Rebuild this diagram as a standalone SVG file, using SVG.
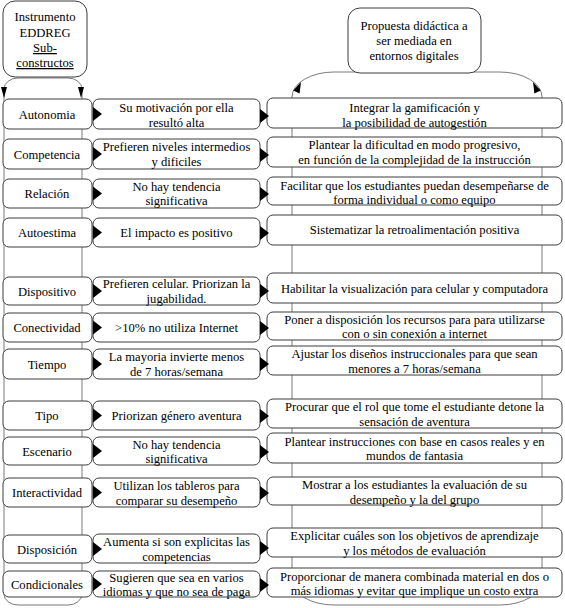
<svg xmlns="http://www.w3.org/2000/svg" width="565" height="608" viewBox="0 0 565 608">
<style>
.bx{fill:#fff;stroke:#3c3c3c;stroke-width:1}
.loop{fill:none;stroke:#7a7a7a;stroke-width:1}
.ah{fill:#000;stroke:none}
text{font-family:"Liberation Serif","Times New Roman",serif;font-size:12.6px;fill:#000;text-anchor:middle}
.u{text-decoration:underline}
</style>
<rect width="565" height="608" fill="#fff"/>
<g id="connectors">
<rect class="loop" x="4" y="78" width="78" height="527" rx="14" ry="11"/>
<rect class="loop" x="292" y="72" width="250" height="533" rx="42" ry="25"/>
<polygon class="ah" points="1,87 7,87 4,98"/>
<polygon class="ah" points="78,87 84,87 81,98"/>
<polygon class="ah" points="301,82 293.3,90.4 299.6,93.6"/>
<polygon class="ah" points="533,82 540.7,90.4 534.4,93.6"/>
</g>
<g id="instrumento">
<rect class="bx" x="3" y="1" width="84" height="76" rx="12"/>
<text x="45" y="21">Instrumento</text>
<text x="45" y="37">EDDREG</text>
<text x="45" y="52" class="u">Sub-</text>
<text x="45" y="67" class="u">constructos</text>
</g>
<g id="propuesta">
<rect class="bx" x="348" y="8" width="133" height="65" rx="12"/>
<text x="414" y="30">Propuesta didáctica a</text>
<text x="414" y="45">ser mediada en</text>
<text x="414" y="60">entornos digitales</text>
</g>
<g id="row1">
<rect class="bx" x="3" y="99" width="89" height="30" rx="6"/>
<text x="47" y="118.5">Autonomia</text>
<rect class="bx" x="93" y="99" width="167" height="30" rx="6"/>
<text x="176.5" y="112">Su motivación por ella</text>
<text x="176.5" y="126.5">resultó alta</text>
<rect class="bx" x="267" y="98" width="295" height="30" rx="6"/>
<text x="414.5" y="112">Integrar la gamificación y</text>
<text x="414.5" y="126.5">la posibilidad de autogestión</text>
</g>
<g id="row2">
<rect class="bx" x="3" y="139" width="89" height="30" rx="6"/>
<text x="47" y="158.5">Competencia</text>
<rect class="bx" x="93" y="139" width="167" height="30" rx="6"/>
<text x="176.5" y="151">Prefieren niveles intermedios</text>
<text x="176.5" y="165.5">y dificiles</text>
<rect class="bx" x="267" y="137" width="295" height="30" rx="6"/>
<text x="414.5" y="149">Plantear la dificultad en modo progresivo,</text>
<text x="414.5" y="163.5">en función de la complejidad de la instrucción</text>
</g>
<g id="row3">
<rect class="bx" x="3" y="179" width="89" height="29" rx="6"/>
<text x="47" y="198">Relación</text>
<rect class="bx" x="93" y="179" width="167" height="29" rx="6"/>
<text x="176.5" y="190.5">No hay tendencia</text>
<text x="176.5" y="205">significativa</text>
<rect class="bx" x="267" y="177" width="295" height="28" rx="6"/>
<text x="414.5" y="189.5">Facilitar que los estudiantes puedan desempeñarse de</text>
<text x="414.5" y="204">forma individual o como equipo</text>
</g>
<g id="row4">
<rect class="bx" x="3" y="218" width="89" height="29" rx="6"/>
<text x="47" y="237">Autoestima</text>
<rect class="bx" x="93" y="218" width="167" height="29" rx="6"/>
<text x="176.5" y="237">El impacto es positivo</text>
<rect class="bx" x="267" y="215" width="295" height="30" rx="6"/>
<text x="414.5" y="234">Sistematizar la retroalimentación positiva</text>
</g>
<g id="row5">
<rect class="bx" x="3" y="277" width="89" height="28" rx="6"/>
<text x="47" y="295.5">Dispositivo</text>
<rect class="bx" x="93" y="277" width="167" height="28" rx="6"/>
<text x="176.5" y="288">Prefieren celular. Priorizan la</text>
<text x="176.5" y="302.5">jugabilidad.</text>
<rect class="bx" x="267" y="273" width="295" height="30" rx="6"/>
<text x="414.5" y="292.5">Habilitar la visualización para celular y computadora</text>
</g>
<g id="row6">
<rect class="bx" x="3" y="313" width="89" height="29" rx="6"/>
<text x="47" y="332">Conectividad</text>
<rect class="bx" x="93" y="313" width="167" height="29" rx="6"/>
<text x="176.5" y="332">&gt;10% no utiliza Internet</text>
<rect class="bx" x="267" y="312" width="295" height="28" rx="6"/>
<text x="414.5" y="323.5">Poner a disposición los recursos para para utilizarse</text>
<text x="414.5" y="338">con o sin conexión a internet</text>
</g>
<g id="row7">
<rect class="bx" x="3" y="349" width="89" height="30" rx="6"/>
<text x="47" y="368.5">Tiempo</text>
<rect class="bx" x="93" y="349" width="167" height="30" rx="6"/>
<text x="176.5" y="361">La mayoria invierte menos</text>
<text x="176.5" y="375.5">de 7 horas/semana</text>
<rect class="bx" x="267" y="346" width="295" height="29" rx="6"/>
<text x="414.5" y="358">Ajustar los diseños instruccionales para que sean</text>
<text x="414.5" y="372.5">menores a 7 horas/semana</text>
</g>
<g id="row8">
<rect class="bx" x="3" y="401" width="89" height="29" rx="6"/>
<text x="47" y="420">Tipo</text>
<rect class="bx" x="93" y="401" width="167" height="29" rx="6"/>
<text x="176.5" y="420">Priorizan género aventura</text>
<rect class="bx" x="267" y="399" width="295" height="29" rx="6"/>
<text x="414.5" y="411">Procurar que el rol que tome el estudiante detone la</text>
<text x="414.5" y="425.5">sensación de aventura</text>
</g>
<g id="row9">
<rect class="bx" x="3" y="437" width="89" height="28" rx="6"/>
<text x="47" y="455.5">Escenario</text>
<rect class="bx" x="93" y="437" width="167" height="28" rx="6"/>
<text x="176.5" y="448.5">No hay tendencia</text>
<text x="176.5" y="463">significativa</text>
<rect class="bx" x="267" y="433" width="295" height="30" rx="6"/>
<text x="414.5" y="445.5">Plantear instrucciones con base en casos reales y en</text>
<text x="414.5" y="460">mundos de fantasia</text>
</g>
<g id="row10">
<rect class="bx" x="3" y="478" width="89" height="29" rx="6"/>
<text x="47" y="497">Interactividad</text>
<rect class="bx" x="93" y="478" width="167" height="29" rx="6"/>
<text x="176.5" y="490">Utilizan los tableros para</text>
<text x="176.5" y="504.5">comparar su desempeño</text>
<rect class="bx" x="267" y="477" width="295" height="28" rx="6"/>
<text x="414.5" y="489">Mostrar a los estudiantes la evaluación de su</text>
<text x="414.5" y="503.5">desempeño y la del grupo</text>
</g>
<g id="row11">
<rect class="bx" x="3" y="535" width="89" height="28" rx="6"/>
<text x="47" y="553.5">Disposición</text>
<rect class="bx" x="93" y="534" width="167" height="29" rx="6"/>
<text x="176.5" y="546">Aumenta si son explicitas las</text>
<text x="176.5" y="560.5">competencias</text>
<rect class="bx" x="267" y="528" width="295" height="29" rx="6"/>
<text x="414.5" y="540">Explicitar cuáles son los objetivos de aprendizaje</text>
<text x="414.5" y="554.5">y los métodos de evaluación</text>
</g>
<g id="row12">
<rect class="bx" x="3" y="571" width="89" height="26" rx="6"/>
<text x="47" y="588.5">Condicionales</text>
<rect class="bx" x="93" y="571" width="167" height="26" rx="6"/>
<text x="176.5" y="581.5">Sugieren que sea en varios</text>
<text x="176.5" y="596">idiomas y que no sea de paga</text>
<rect class="bx" x="267" y="568" width="295" height="29" rx="6"/>
<text x="414.5" y="580.5">Proporcionar de manera combinada material en dos o</text>
<text x="414.5" y="595">más idiomas y evitar que implique un costo extra</text>
</g>
<g id="arrowheads">
<polygon class="ah" points="93,107 102,114 93,121"/>
<polygon class="ah" points="260,109 269,116 260,123"/>
<polygon class="ah" points="93,147 102,154 93,161"/>
<polygon class="ah" points="260,148 269,155 260,162"/>
<polygon class="ah" points="93,186.5 102,193.5 93,200.5"/>
<polygon class="ah" points="260,187 269,194 260,201"/>
<polygon class="ah" points="93,225.5 102,232.5 93,239.5"/>
<polygon class="ah" points="260,226 269,233 260,240"/>
<polygon class="ah" points="93,284 102,291 93,298"/>
<polygon class="ah" points="260,284 269,291 260,298"/>
<polygon class="ah" points="93,320.5 102,327.5 93,334.5"/>
<polygon class="ah" points="260,321 269,328 260,335"/>
<polygon class="ah" points="93,357 102,364 93,371"/>
<polygon class="ah" points="260,357 269,364 260,371"/>
<polygon class="ah" points="93,408.5 102,415.5 93,422.5"/>
<polygon class="ah" points="260,409 269,416 260,423"/>
<polygon class="ah" points="93,444 102,451 93,458"/>
<polygon class="ah" points="260,445 269,452 260,459"/>
<polygon class="ah" points="93,485.5 102,492.5 93,499.5"/>
<polygon class="ah" points="260,486 269,493 260,500"/>
<polygon class="ah" points="93,542 102,549 93,556"/>
<polygon class="ah" points="260,541 269,548 260,555"/>
<polygon class="ah" points="93,577 102,584 93,591"/>
<polygon class="ah" points="260,578 269,585 260,592"/>
</g>
</svg>
